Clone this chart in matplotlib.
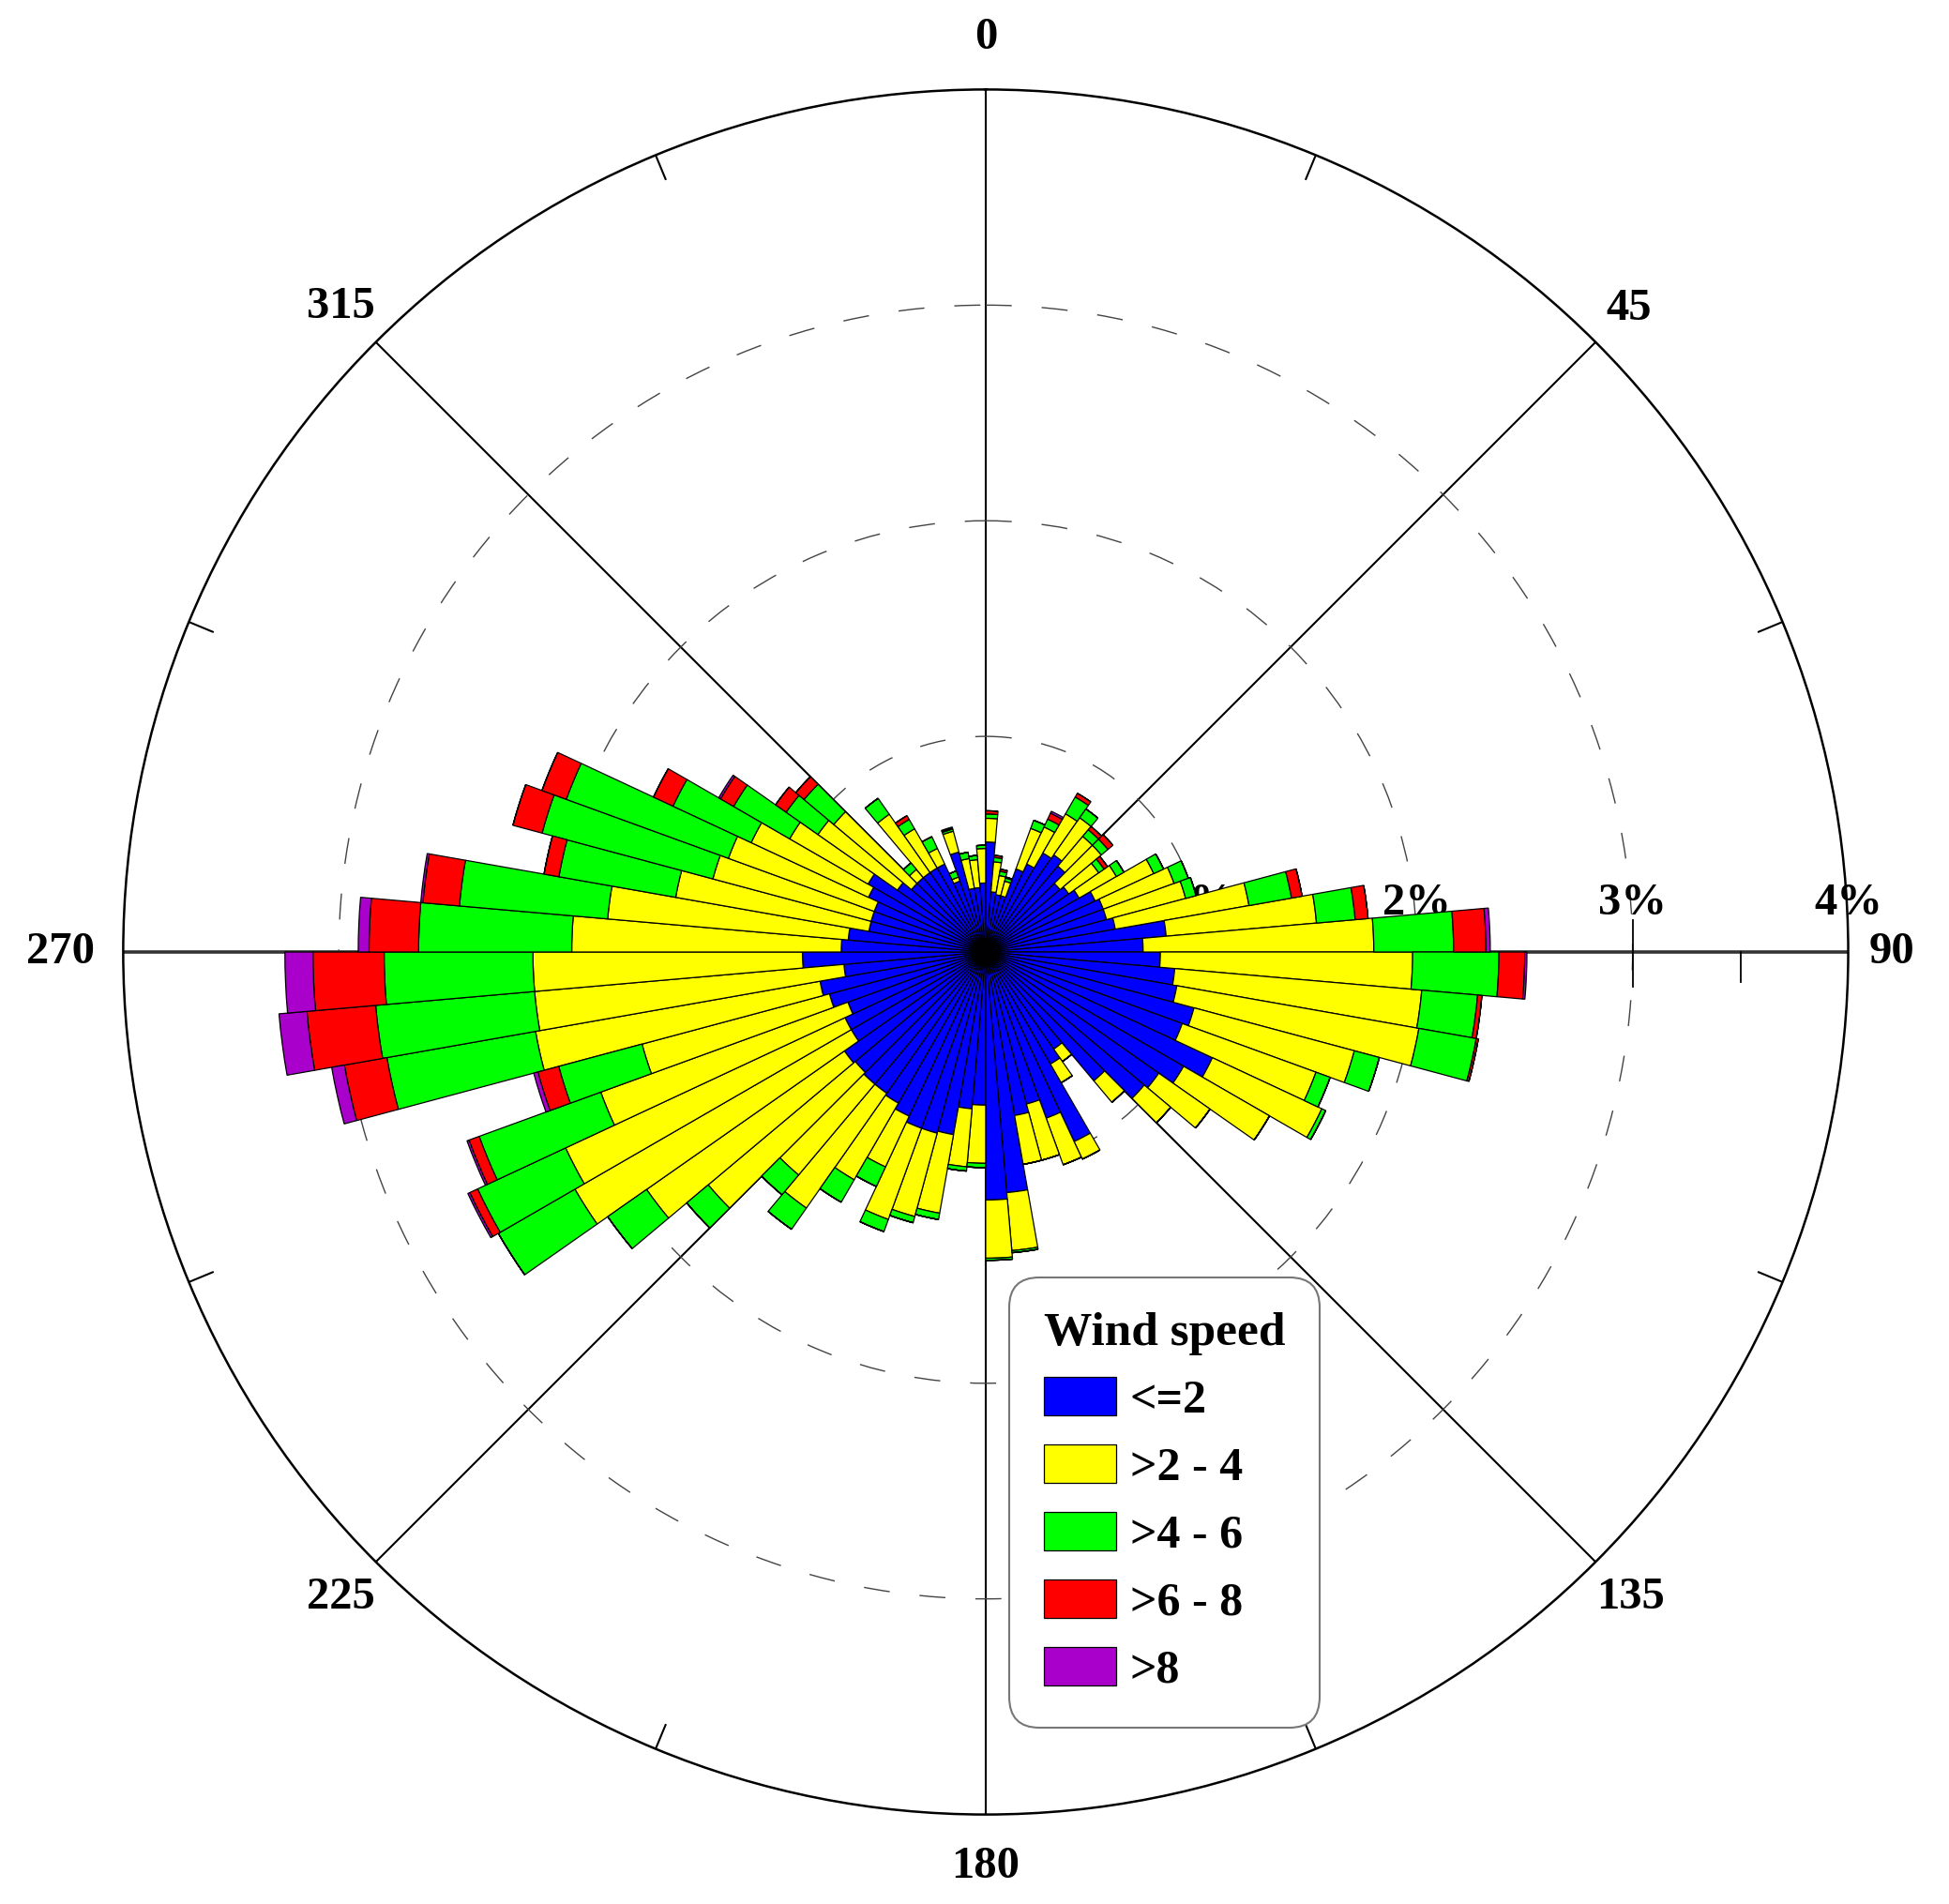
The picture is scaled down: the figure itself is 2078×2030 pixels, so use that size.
import numpy as np
import matplotlib.pyplot as plt

plt.rcParams['font.family'] = ['Liberation Serif', 'DejaVu Serif']
plt.rcParams['font.weight'] = 'bold'

# direction bins, 5 degrees each, clockwise from north
directions = np.arange(0, 360, 5)
speed_labels = ['<=2', '>2 - 4', '>4 - 6', '>6 - 8', '>8']
colors = ['#0000FF', '#FFFF00', '#00FF00', '#FF0000', '#AA00CC']

# frequency (%) of each speed class per direction bin
le2 = [0.51, 0.28, 0.27, 0.27, 0.41, 0.45, 0.53, 0.55, 0.52, 0.45, 0.47, 0.50,
       0.56, 0.58, 0.58, 0.61, 0.84, 0.73, 0.81, 0.88, 0.90, 1.00, 0.97, 1.16,
       1.06, 0.98, 0.96, 0.78, 0.55, 0.60, 0.97, 0.82, 0.73, 0.77, 1.12, 1.15,
       0.71, 0.73, 0.86, 0.87, 0.87, 0.84, 0.81, 0.80, 0.80, 0.79, 0.80, 0.72,
       0.72, 0.68, 0.75, 0.78, 0.66, 0.85, 0.67, 0.64, 0.55, 0.55, 0.55, 0.60,
       0.63, 0.50, 0.45, 0.45, 0.45, 0.45, 0.45, 0.35, 0.48, 0.30, 0.30, 0.32]
s2_4 = [0.11, 0.14, 0.09, 0.07, 0.20, 0.19, 0.21, 0.21, 0.18, 0.25, 0.17, 0.20,
        0.30, 0.35, 0.38, 0.63, 0.70, 1.07, 1.17, 1.15, 1.14, 0.77, 0.66, 0.56,
        0.46, 0.29, 0.16, 0.13, 0.07, 0.10, 0.09, 0.23, 0.27, 0.23, 0.27, 0.27,
        0.27, 0.27, 0.37, 0.40, 0.45, 0.26, 0.41, 0.65, 0.55, 0.89, 1.12, 1.48,
        1.43, 1.22, 0.90, 1.34, 1.44, 1.25, 1.25, 1.12, 0.91, 0.76, 0.72, 0.60,
        0.42, 0.45, 0.47, 0.05, 0.33, 0.21, 0.08, 0.02, 0.10, 0.14, 0.13, 0.16]
s4_6 = [0.02, 0.02, 0.02, 0.015, 0.04, 0.04, 0.09, 0.05, 0.04, 0.04, 0.03, 0.04,
        0.05, 0.07, 0.05, 0.20, 0.18, 0.37, 0.40, 0.26, 0.27, 0.12, 0.07, 0.02,
        0.0, 0.0, 0.0, 0.0, 0.0, 0.0, 0.0, 0.0, 0.0, 0.0, 0.01, 0.01,
        0.02, 0.02, 0.03, 0.03, 0.06, 0.10, 0.12, 0.12, 0.12, 0.13, 0.22, 0.41,
        0.45, 0.60, 0.40, 0.70, 0.74, 0.69, 0.71, 0.69, 0.55, 0.82, 0.80, 0.40,
        0.30, 0.18, 0.18, 0.04, 0.09, 0.05, 0.06, 0.03, 0.01, 0.03, 0.02, 0.015]
s6_8 = [0.015, 0.01, 0.01, 0.005, 0.0, 0.03, 0.02, 0.0, 0.02, 0.03, 0.02, 0.0,
        0.0, 0.0, 0.0, 0.05, 0.06, 0.15, 0.12, 0.02, 0.01, 0.0, 0.0, 0.0,
        0.0, 0.0, 0.0, 0.0, 0.0, 0.0, 0.0, 0.0, 0.0, 0.0, 0.0, 0.0,
        0.0, 0.0, 0.0, 0.0, 0.0, 0.0, 0.0, 0.0, 0.0, 0.0, 0.0, 0.0,
        0.04, 0.05, 0.10, 0.20, 0.32, 0.33, 0.23, 0.17, 0.07, 0.14, 0.12, 0.10,
        0.07, 0.06, 0.05, 0.0, 0.0, 0.02, 0.0, 0.0, 0.005, 0.0, 0.0, 0.0]
gt8 = [0.0, 0.0, 0.0, 0.0, 0.0, 0.01, 0.0, 0.0, 0.0, 0.0, 0.0, 0.0,
       0.0, 0.0, 0.0, 0.0, 0.0, 0.02, 0.01, 0.0, 0.0, 0.0, 0.0, 0.0,
       0.0, 0.0, 0.0, 0.0, 0.0, 0.0, 0.0, 0.0, 0.0, 0.0, 0.0, 0.0,
       0.0, 0.0, 0.0, 0.0, 0.0, 0.0, 0.0, 0.0, 0.0, 0.0, 0.0, 0.0,
       0.01, 0.01, 0.02, 0.06, 0.13, 0.13, 0.05, 0.01, 0.0, 0.0, 0.0, 0.0,
       0.01, 0.0, 0.0, 0.0, 0.0, 0.0, 0.0, 0.0, 0.005, 0.0, 0.0, 0.0]

angle_labels = ['0', '45', '90', '135', '180', '225', '270', '315']
ring_labels = ['1%', '2%', '3%', '4%']

fig = plt.figure(figsize=(20.78, 20.30), dpi=100)
ax = fig.add_axes([0.063, 0.047, 0.8855, 0.906], projection='polar')
ax.set_theta_zero_location('N')
ax.set_theta_direction(-1)
ax.set_axisbelow(True)

theta = np.radians(directions)
width = np.radians(5)
bottom = np.zeros(len(directions))
handles = []
for vals, col, lab in zip([le2, s2_4, s4_6, s6_8, gt8], colors, speed_labels):
    vals = np.array(vals)
    b = ax.bar(theta, vals, width=width, bottom=bottom, align='edge',
               color=col, edgecolor='black', linewidth=0.9, label=lab, zorder=2)
    handles.append(b)
    bottom = bottom + vals

ax.set_ylim(0, 4)
ax.set_yticks([1, 2, 3])
ax.set_yticklabels([])
ax.tick_params(axis='y', which='both', length=0)
ax.yaxis.grid(True, linestyle=(0, (20, 23)), color='#444444', linewidth=1.0)

ax.set_xticks(np.radians(np.arange(0, 360, 45)))
ax.set_xticklabels([])
ax.tick_params(axis='x', which='major', length=0)
ax.xaxis.grid(True, color='black', linewidth=1.5)
gl = ax.xaxis.get_gridlines()
for i in (2, 6):
    gl[i].set_linewidth(2.6)
    gl[i].set_color('#333333')
ax.spines['polar'].set_linewidth(1.8)

# short inward ticks on the rim between the spokes
for a in np.arange(22.5, 360, 45):
    ax.plot([np.radians(a)] * 2, [3.88, 4.0], color='black', lw=1.5, zorder=1)


# small ticks across the 90 degree axis
def axis_tick(r, up, down):
    ang = [np.pi / 2 - np.arctan2(up, r), np.pi / 2 + np.arctan2(down, r)]
    rad = [np.hypot(r, up), np.hypot(r, down)]
    ax.plot(ang, rad, color='black', lw=1.3, zorder=1)


for r in (1, 2, 3):
    axis_tick(r, 0.15, 0.16)
for r in (0.5, 1.5, 2.5, 3.5):
    axis_tick(r, 0.0, 0.14)

label_r = [4.24, 4.22, 4.20, 4.23, 4.24, 4.23, 4.29, 4.23]
for a, lab, r in zip(range(0, 360, 45), angle_labels, label_r):
    ax.text(np.radians(a), r, lab, ha='center', va='center', fontsize=35,
            fontweight='bold')

for k, lab in enumerate(ring_labels, start=1):
    ax.annotate(lab, xy=(np.pi / 2, k), xytext=(0, 29), textcoords='offset points',
                ha='center', va='baseline', fontsize=35, fontweight='bold', zorder=1)

leg = ax.legend(handles=handles, labels=speed_labels, title='Wind speed',
                loc='upper left', bbox_to_anchor=(0.5178, 0.3291),
                bbox_transform=fig.transFigure, fontsize=36, title_fontsize=37,
                frameon=True, fancybox=True, edgecolor='#777777', framealpha=1,
                handlelength=1.54, handleheight=0.88, labelspacing=0.466,
                borderpad=0.74, handletextpad=0.3, borderaxespad=0,
                alignment='left')
leg.get_title().set_fontweight('bold')
leg.get_frame().set_linewidth(1.5)
leg.get_frame().set_boxstyle('round', pad=0, rounding_size=0.65)

fig.savefig('out.png', dpi=100, facecolor='white')
